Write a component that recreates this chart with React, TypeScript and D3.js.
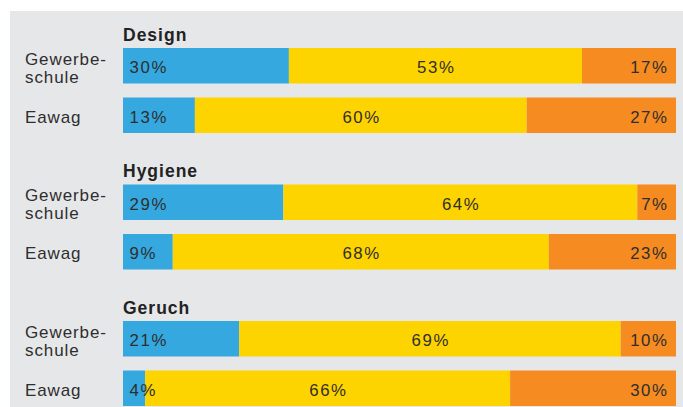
import React from "react";
import * as d3 from "d3";

const groups = ["Design", "Hygiene", "Geruch"];
const rows = ["Gewerbeschule", "Eawag"];
const rowLabels = [["Gewerbe-", "schule"], ["Eawag"]];
const blueValues = [[30, 13], [29, 9], [21, 4]];
const yellowValues = [[53, 60], [64, 68], [69, 66]];
const orangeValues = [[17, 27], [7, 23], [10, 30]];
const segmentColors = ["#35a8df", "#fed400", "#f68b21"];

const W = 683;
const H = 407;

export default function App() {
  const x = d3.scaleLinear().domain([0, 100]).range([123, 676]);
  const gy = d3.scaleLinear().domain([0, 2]).range([48, 321]);
  const rowOffset = d3.scaleOrdinal<string, number>().domain(rows).range([0, 49.5]);
  const barH = 35.5;
  const font = "'Liberation Sans', Arial, Helvetica, sans-serif";
  const textColor = "#2e2e2e";
  const pctSize = 16.8;
  const pctLs = 1.6;
  const lblSize = 17;
  const lblLs = 0.9;

  return (
    <div style={{ position: "absolute", left: 0, top: 0 }}>
      <svg width={W} height={H} style={{ display: "block" }}>
        <rect x={0} y={0} width={W} height={H} fill="#ffffff" />
        <rect x={10} y={11} width={W - 10} height={H - 11} fill="#e6e7e9" />
        {groups.map((g, gi) => {
          const top = gy(gi);
          return (
            <g key={g}>
              <text x={x(0)} y={top - 7.3} fontFamily={font} fontWeight="bold" fontSize={17.5} letterSpacing={1} fill="#222">
                {g}
              </text>
              {rows.map((r, ri) => {
                const y0 = top + rowOffset(r);
                const vals = [blueValues[gi][ri], yellowValues[gi][ri], orangeValues[gi][ri]];
                const starts = [0, vals[0], vals[0] + vals[1]];
                const midY = y0 + barH / 2;
                const lines = rowLabels[ri];
                return (
                  <g key={r}>
                    {vals.map((v, si) => (
                      <rect
                        key={si}
                        x={x(starts[si])}
                        y={y0}
                        width={x(starts[si] + v) - x(starts[si])}
                        height={barH}
                        fill={segmentColors[si]}
                      />
                    ))}
                    <text x={x(0) + 6.5} y={midY + 7.5} fontFamily={font} fontSize={pctSize} letterSpacing={pctLs} fill={textColor}>
                      {vals[0]}%
                    </text>
                    <text
                      x={(x(starts[1]) + x(starts[1] + vals[1])) / 2 + pctLs / 2}
                      y={midY + 7.5}
                      textAnchor="middle"
                      fontFamily={font}
                      fontSize={pctSize}
                      letterSpacing={pctLs}
                      fill={textColor}
                    >
                      {vals[1]}%
                    </text>
                    <text
                      x={x(100) - 9 + pctLs}
                      y={midY + 7.5}
                      textAnchor="end"
                      fontFamily={font}
                      fontSize={pctSize}
                      letterSpacing={pctLs}
                      fill={textColor}
                    >
                      {vals[2]}%
                    </text>
                    {lines.length === 2 ? (
                      <>
                        <text x={25} y={midY - 1.2} fontFamily={font} fontSize={lblSize} letterSpacing={lblLs} fill={textColor}>
                          {lines[0]}
                        </text>
                        <text x={25} y={midY + 17} fontFamily={font} fontSize={lblSize} letterSpacing={lblLs} fill={textColor}>
                          {lines[1]}
                        </text>
                      </>
                    ) : (
                      <text x={25} y={midY + 7.5} fontFamily={font} fontSize={lblSize} letterSpacing={lblLs} fill={textColor}>
                        {lines[0]}
                      </text>
                    )}
                  </g>
                );
              })}
            </g>
          );
        })}
      </svg>
    </div>
  );
}
